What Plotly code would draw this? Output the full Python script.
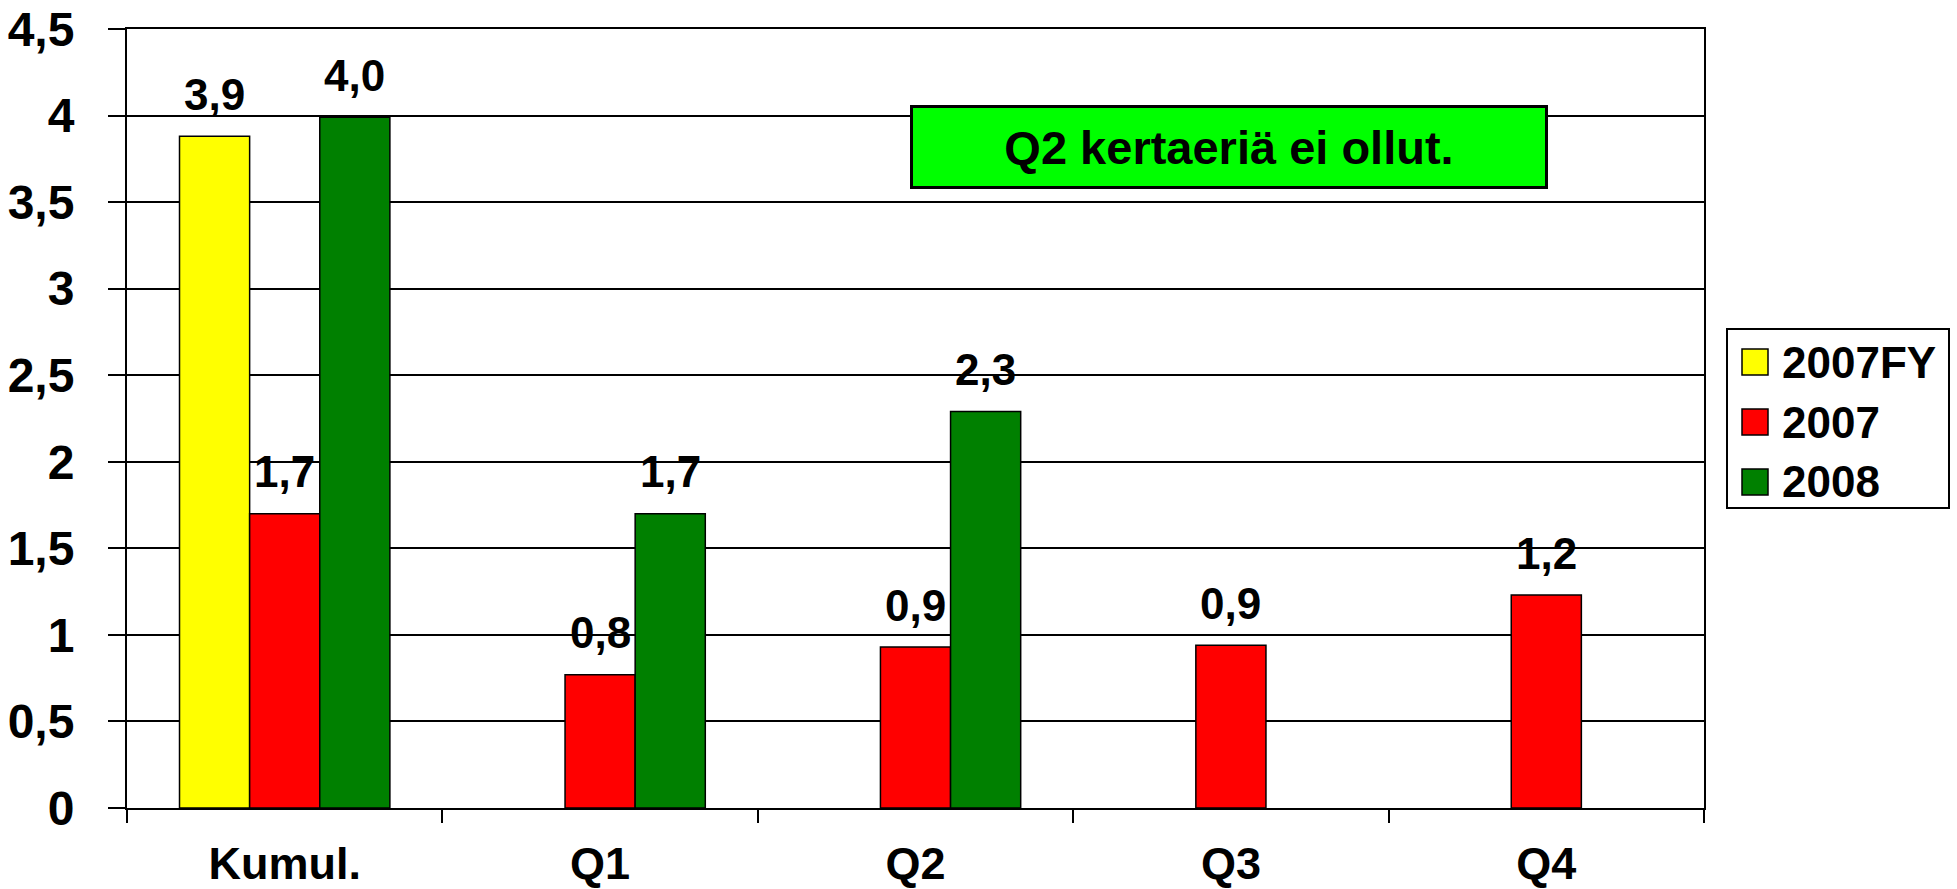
import plotly.graph_objects as go

# --- datos del gráfico ---
CATEGORIAS = ["Kumul.", "Q1", "Q2", "Q3", "Q4"]
SERIES = ["2007FY", "2007", "2008"]
VALORES_2007FY = [3.88, None, None, None, None]
VALORES_2007 = [1.70, 0.77, 0.93, 0.94, 1.23]
VALORES_2008 = [3.99, 1.70, 2.29, None, None]
COLORES = ["#FFFF00", "#FF0000", "#008000"]
TICKS_Y = [0, 0.5, 1, 1.5, 2, 2.5, 3, 3.5, 4, 4.5]
NOTA = "Q2 kertaeriä ei ollut."

# --- tamaño y márgenes (px) ---
ANCHO, ALTO = 1957, 889
PLOT_X0, PLOT_X1 = 127, 1704
PLOT_Y0, PLOT_Y1 = 29, 808
PLOT_W = PLOT_X1 - PLOT_X0
PLOT_H = PLOT_Y1 - PLOT_Y0
BARGAP = 0.333
FUENTE = "Liberation Sans, Arial, sans-serif"


def px_x(x):
    return (x - PLOT_X0) / PLOT_W


def px_y(y):
    return (PLOT_Y1 - y) / PLOT_H


fig = go.Figure()
valores = [VALORES_2007FY, VALORES_2007, VALORES_2008]
for nombre, vals, color in zip(SERIES, valores, COLORES):
    fig.add_trace(go.Bar(
        x=CATEGORIAS, y=vals, name=nombre,
        marker=dict(color=color, line=dict(color="black", width=1.5)),
        showlegend=False,
    ))

# etiquetas de valor encima de cada barra
ranura = PLOT_W / len(CATEGORIAS) * (1 - BARGAP) / len(SERIES)
anotaciones = []
for i, vals in enumerate(valores):
    for cat, v in zip(CATEGORIAS, vals):
        if v is None:
            continue
        anotaciones.append(dict(
            x=cat, y=v, xref="x", yref="y",
            xshift=(i - 1) * ranura, yshift=42, yanchor="middle",
            text=f"{v:.1f}".replace(".", ","), showarrow=False,
            font=dict(family=FUENTE, size=44, color="black", weight="bold"),
        ))

# recuadro verde con la nota
anotaciones.append(dict(
    x=px_x(1229), y=px_y(147), xref="paper", yref="paper",
    xanchor="center", yanchor="middle",
    text=NOTA, showarrow=False, bgcolor="#00FF00",
    bordercolor="black", borderwidth=3, borderpad=0,
    width=632, height=78,
    font=dict(family=FUENTE, size=47, color="black", weight="bold"),
))

# leyenda dibujada a mano (cuadros grandes como en el original)
formas = [dict(type="rect", xref="paper", yref="paper",
               x0=px_x(1727), x1=px_x(1949), y0=px_y(508), y1=px_y(329),
               line=dict(color="black", width=2), fillcolor="white")]
for k, (nombre, color) in enumerate(zip(SERIES, COLORES)):
    yc = 362 + 60 * k
    formas.append(dict(type="rect", xref="paper", yref="paper",
                       x0=px_x(1742), x1=px_x(1768), y0=px_y(yc + 13), y1=px_y(yc - 13),
                       line=dict(color="black", width=1.5), fillcolor=color))
    anotaciones.append(dict(
        x=px_x(1780), y=px_y(yc), xref="paper", yref="paper",
        xanchor="left", yanchor="middle", text=nombre, showarrow=False,
        font=dict(family=FUENTE, size=44, color="black", weight="bold"),
    ))

fig.update_layout(
    width=ANCHO, height=ALTO,
    margin=dict(l=PLOT_X0, r=ANCHO - PLOT_X1, t=PLOT_Y0, b=ALTO - PLOT_Y1,
                autoexpand=False),
    barmode="group", bargap=BARGAP, bargroupgap=0,
    separators=",.",
    plot_bgcolor="white", paper_bgcolor="white",
    annotations=anotaciones, shapes=formas,
    showlegend=False,
)
fig.update_xaxes(
    type="category", tickson="boundaries", ticks="outside", ticklen=13,
    tickwidth=1.5, tickcolor="black", showline=True, linecolor="black",
    linewidth=2, mirror=True, showgrid=False, ticklabelstandoff=15,
    automargin=False,
    tickfont=dict(family=FUENTE, size=45, color="black", weight="bold"),
)
fig.update_yaxes(
    range=[0, 4.5], tickvals=TICKS_Y, ticks="outside", ticklen=17,
    tickwidth=1.5, tickcolor="black", showline=True, linecolor="black",
    linewidth=2, mirror=True, showgrid=True, gridcolor="black", gridwidth=1.5,
    zeroline=False, ticklabelstandoff=24, automargin=False,
    tickfont=dict(family=FUENTE, size=48, color="black", weight="bold"),
)

# sin margen del body para que la figura ocupe toda la ventana
fig.write_html("out.html", config={"displayModeBar": False},
               post_script="document.body.style.margin='0';")
